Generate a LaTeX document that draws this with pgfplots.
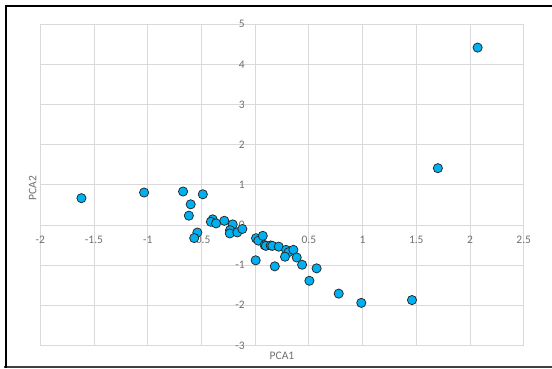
\documentclass[border=0pt]{standalone}
\usepackage{fontspec}
\setmainfont{Carlito}
\usepackage{pgfplots}
\pgfplotsset{compat=1.18}
\definecolor{gridc}{HTML}{D9D9D9}
\definecolor{txt}{HTML}{707070}
\definecolor{ptfill}{HTML}{00B0F0}
\pgfplotstableread{
x y
-1.617 0.668
-1.034 0.809
-0.671 0.834
-0.487 0.765
-0.600 0.515
-0.617 0.232
-0.538 -0.188
-0.567 -0.325
-0.395 0.140
-0.412 0.080
-0.364 0.040
-0.287 0.105
-0.209 0.015
-0.234 -0.130
-0.236 -0.210
-0.166 -0.185
-0.119 -0.100
0.008 -0.330
0.030 -0.390
0.071 -0.270
0.088 -0.500
0.100 -0.520
0.145 -0.510
0.160 -0.520
0.220 -0.540
0.288 -0.620
0.310 -0.680
0.356 -0.620
0.278 -0.790
0.387 -0.810
0.437 -0.990
0.572 -1.080
0.005 -0.880
0.183 -1.030
0.505 -1.390
0.778 -1.710
0.988 -1.940
1.460 -1.870
1.701 1.415
2.071 4.420
}\pcadata
\begin{document}
\begin{tikzpicture}
\useasboundingbox (0pt,0pt) rectangle (552pt,368pt);
\draw[line width=1.4pt, black!75] (4pt,1pt) -- (560pt,1pt);
\draw[line width=2pt, black] (6pt,0pt) -- (6pt,362pt) -- (560pt,362pt);
\begin{axis}[
  at={(40.3pt,22.6pt)}, anchor=south west,
  scale only axis, width=483.4pt, height=321.1pt,
  xmin=-2, xmax=2.5, ymin=-3, ymax=5,
  xtick={-2,-1.5,...,2.5}, ytick={-3,-2,...,5},
  axis x line=middle, axis y line=middle,
  axis line style={draw=gridc, line width=0.9pt, -},
  grid=major, major grid style={draw=gridc, line width=0.9pt},
  major tick length=0pt,
  hide obscured x ticks=false, hide obscured y ticks=false,
  /pgf/number format/assume math mode=true,
  tick label style={font=\fontsize{11.5}{13}\selectfont, text=txt, inner sep=0pt},
  xticklabel style={anchor=north, yshift=-10.8pt},
  yticklabel style={anchor=east, xshift=-10.3pt},
  xlabel={PCA1}, ylabel={PCA2},
  xlabel style={at={(rel axis cs:0.5,-0.0327)}, anchor=center, font=\fontsize{11.5}{13}\selectfont, text=txt, inner sep=0pt},
  ylabel style={at={(rel axis cs:-0.0157,0.4907)}, anchor=center, rotate=90, font=\fontsize{11.5}{13}\selectfont, text=txt, inner sep=0pt},
]
\addplot[only marks, mark=*, mark size=4.6pt,
  mark options={fill=ptfill, draw=black!85, line width=0.75pt}] table[x=x,y=y] {\pcadata};
\end{axis}
\end{tikzpicture}
\end{document}
